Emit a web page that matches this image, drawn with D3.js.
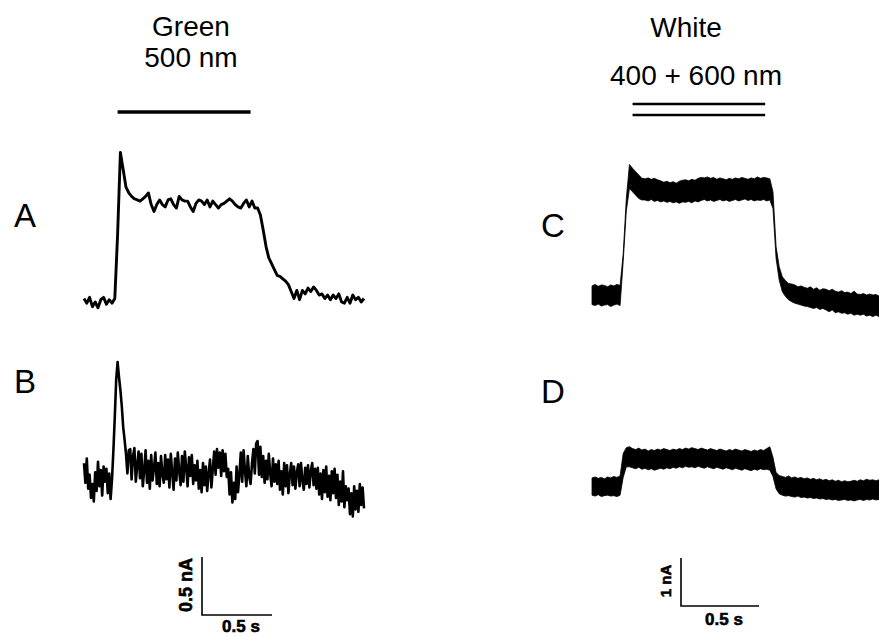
<!DOCTYPE html>
<html>
<head>
<meta charset="utf-8">
<script src="https://cdn.jsdelivr.net/npm/d3@7"></script>
<style>
  html, body { margin: 0; padding: 0; background: #fff; }
  svg { display: block; font-family: "Liberation Sans", Arial, sans-serif; }
  .trace { fill: none; stroke: #000; stroke-linejoin: round; }
  .band { fill: #000; stroke: #000; stroke-width: 0.8; stroke-linejoin: round; }
  .scalebar { fill: none; stroke: #000; stroke-width: 1.6; }
  .scalelabel { font-weight: bold; stroke: #000; stroke-width: 0.6; }
  .stim { stroke: #000; }
</style>
</head>
<body>
<div id="container"></div>
<script>

//---------------------
// DATA (nA, sampled every dt seconds)
//---------------------

const dt_a = 0.02;
const dt_b = 0.01;
const dt_cd = 0.02;

// A: green 500 nm, cell 1
const trace_a = [
  0.03, -0.01, 0.04, -0.04, 0.00, -0.05, 0.02, 0.04, -0.02, 0.02, -0.01, 0.03,
  0.58, 1.29, 1.14, 0.99, 0.94, 0.91,
  0.89, 0.88, 0.87, 0.89, 0.91, 0.94, 0.84, 0.78, 0.84, 0.88, 0.84, 0.82, 0.88, 0.89, 0.84,
  0.81, 0.91, 0.88, 0.87, 0.87, 0.82, 0.78, 0.85, 0.88, 0.87, 0.84, 0.88, 0.82, 0.87, 0.84,
  0.81, 0.84, 0.85, 0.87, 0.89, 0.87, 0.84, 0.82, 0.81, 0.85, 0.88, 0.82, 0.87, 0.81, 0.81,
  0.75, 0.62, 0.48, 0.38, 0.33, 0.28, 0.23, 0.22, 0.20, 0.18, 0.15, 0.09, 0.03, 0.10, 0.02,
  0.10, 0.07, 0.12, 0.09, 0.13, 0.10, 0.06, 0.07, 0.03, 0.06, 0.02, 0.06, 0.03, 0.07, 0.00,
  -0.01, 0.04, -0.01, 0.06, 0.02, 0.04, 0.00, 0.03
];

// B: green 500 nm, cell 2
const trace_b = [
  0.12, -0.05, 0.16, -0.10, 0.02, -0.18, -0.06, -0.21, 0.04, -0.12, 0.13, -0.08, 0.06, -0.16,
  0.09, -0.04, 0.07, -0.14, 0.03, -0.19, -0.02,
  0.23, 0.52, 0.84, 0.99, 0.86, 0.75, 0.61, 0.43, 0.32, 0.20, 0.03, 0.23,
  0.24, -0.02, 0.18, 0.25, -0.04, 0.10, 0.22, -0.01,
  0.20, -0.08, 0.06, 0.23, -0.05, 0.14, -0.10, 0.19, -0.03, 0.08,
  0.21, -0.06, 0.12, -0.08, 0.18, 0.02, -0.05, 0.19, -0.02, 0.15,
  -0.09, 0.20, 0.04, -0.11, 0.16, -0.03, 0.21, 0.05, -0.07, 0.18,
  -0.04, 0.22, 0.08, -0.08, 0.17, 0.01, 0.19, -0.06, 0.10, -0.03,
  0.14, -0.10, 0.06, -0.13, 0.12, -0.07, 0.09, -0.12, 0.03, 0.15, -0.09, 0.07,
  0.22, 0.02, 0.24, 0.08, 0.21, 0.01, 0.23, 0.05, 0.20, 0.00,
  0.07, -0.15, 0.04, -0.22, -0.05, -0.19, 0.09, -0.13, 0.02,
  0.21, -0.04, 0.23, 0.05, -0.08, 0.18, 0.00, -0.06, 0.12,
  0.24, 0.03, 0.29, 0.31, 0.02, 0.26, 0.00,
  0.18, -0.05, 0.14, -0.02, 0.20, 0.03, -0.08, 0.16, -0.04, 0.11, -0.06,
  0.14, -0.11, 0.05, -0.15, 0.12, -0.08, 0.10, -0.14, 0.02,
  0.12, -0.07, 0.09, -0.10, 0.04, 0.11, -0.08, 0.12, -0.03, -0.11, 0.08, -0.06, 0.10, -0.09,
  0.05, 0.12, -0.07, 0.07, -0.10,
  0.08, -0.15, 0.03, -0.19, 0.06, -0.13, 0.09, -0.17, 0.01, -0.20, 0.05, -0.14,
  0.07, -0.18, 0.02, -0.24, -0.04, -0.21, 0.05, -0.26, -0.08, -0.20,
  -0.10, -0.32, -0.14, -0.34, -0.08, -0.28, -0.12,
  -0.30, -0.06, -0.24, -0.09, -0.27
];

// C: white 400 + 600 nm, cell 1 (upper / lower edge of the noise band)
const trace_c_upper = [
  0.19, 0.22, 0.18, 0.21, 0.20, 0.17, 0.21, 0.19, 0.22, 0.20,
  0.86, 2.01, 2.72, 2.64, 2.57, 2.50, 2.43,
  2.42, 2.44, 2.41, 2.43, 2.40, 2.38, 2.35, 2.37, 2.34, 2.36, 2.33, 2.37, 2.39, 2.40,
  2.38, 2.41, 2.39, 2.43, 2.45, 2.44, 2.46, 2.43, 2.45, 2.41, 2.44, 2.42, 2.40, 2.43,
  2.41, 2.44, 2.42, 2.45, 2.43, 2.41, 2.44, 2.42, 2.46, 2.43, 2.45, 2.44, 2.42,
  2.15, 1.01, 0.59, 0.38, 0.30, 0.24, 0.23, 0.21, 0.17, 0.19,
  0.16, 0.14, 0.17, 0.12, 0.15, 0.10, 0.13, 0.12, 0.09, 0.12,
  0.08, 0.06, 0.09, 0.05, 0.06, 0.03, 0.08, 0.02, 0.01, 0.03,
  0.00, 0.02, 0.00, 0.01, -0.02, 0.00
];
const trace_c_lower = [
  -0.20, -0.22, -0.19, -0.23, -0.21, -0.20, -0.24, -0.21, -0.19, -0.22,
  0.70, 1.75, 2.22, 2.15, 2.08, 2.01, 1.98,
  1.98, 1.96, 1.99, 1.95, 1.97, 1.94, 1.96, 1.93, 1.95, 1.92, 1.94, 1.91, 1.94, 1.93,
  1.95, 1.92, 1.96, 1.94, 1.97, 1.99, 1.96, 1.98, 1.95, 1.97, 1.99, 1.96, 1.98, 1.95,
  1.97, 1.99, 1.96, 1.98, 2.00, 1.97, 1.99, 1.96, 1.98, 1.97, 1.99, 1.96, 1.98,
  1.80, 0.76, 0.31, 0.07, -0.03, -0.10, -0.14, -0.17, -0.19, -0.21,
  -0.23, -0.24, -0.26, -0.28, -0.26, -0.30, -0.28, -0.31, -0.35, -0.31,
  -0.37, -0.35, -0.38, -0.37, -0.40, -0.38, -0.42, -0.40, -0.42, -0.40,
  -0.44, -0.42, -0.45, -0.42, -0.45, -0.44
];

// D: white 400 + 600 nm, cell 2
const trace_d_upper = [
  0.19, 0.21, 0.18, 0.20, 0.17, 0.21, 0.19, 0.22, 0.20, 0.23,
  0.70, 0.82,
  0.84, 0.80, 0.78, 0.81, 0.77, 0.79, 0.75, 0.78, 0.76, 0.79, 0.77, 0.80, 0.78, 0.76, 0.79,
  0.77, 0.80, 0.78, 0.81, 0.79, 0.82, 0.80, 0.78, 0.81, 0.79, 0.77, 0.80, 0.78, 0.76, 0.79,
  0.77, 0.75, 0.78, 0.76, 0.79, 0.77, 0.75, 0.78, 0.76, 0.74, 0.77, 0.75, 0.78, 0.76, 0.80, 0.84,
  0.62, 0.30, 0.24,
  0.22, 0.20, 0.23, 0.19, 0.21, 0.18, 0.20, 0.17, 0.19, 0.16, 0.18, 0.15, 0.17, 0.14, 0.16,
  0.13, 0.15, 0.12, 0.14, 0.11, 0.13, 0.11, 0.12, 0.14, 0.12, 0.15, 0.13, 0.16, 0.14, 0.15,
  0.13, 0.15, 0.14
];
const trace_d_lower = [
  -0.17, -0.19, -0.16, -0.20, -0.18, -0.17, -0.19, -0.18, -0.20, -0.17,
  0.20, 0.42,
  0.42, 0.40, 0.38, 0.41, 0.37, 0.39, 0.36, 0.38, 0.35, 0.37, 0.39, 0.37, 0.40, 0.38, 0.41,
  0.39, 0.42, 0.40, 0.43, 0.41, 0.42, 0.40, 0.43, 0.41, 0.39, 0.42, 0.40, 0.38, 0.41, 0.39,
  0.37, 0.40, 0.38, 0.36, 0.39, 0.37, 0.35, 0.38, 0.36, 0.34, 0.37, 0.35, 0.38, 0.36, 0.37, 0.35,
  0.22, -0.04, -0.14,
  -0.17, -0.19, -0.18, -0.20, -0.21, -0.19, -0.22, -0.21, -0.23, -0.22, -0.24, -0.23, -0.25,
  -0.24, -0.26, -0.25, -0.27, -0.26, -0.28, -0.27, -0.26, -0.28, -0.27, -0.29, -0.27, -0.26,
  -0.28, -0.26, -0.27, -0.25, -0.27, -0.26, -0.27
];

// light on / off (s)
const stim_left = [0.24, 1.19];
const stim_right = [0.26, 1.11];

const titles_left = ['Green', '500 nm'];
const titles_right = ['White', '400 + 600 nm'];
const panel_labels = ['A', 'B', 'C', 'D'];

// scale bars: [amplitude nA, time s]
const scalebar_left = [0.5, 0.5];
const scalebar_right = [1, 0.5];
const scalebar_left_labels = ['0.5 nA', '0.5 s'];
const scalebar_right_labels = ['1 nA', '0.5 s'];

//---------------------
// SCALES
//---------------------

const width = 879;
const height = 637;

const scale_time_left = d3.scaleLinear().domain([0, 1]).range([84, 224]);
const scale_time_right = d3.scaleLinear().domain([0, 1]).range([592, 748]);

const scale_y = {
  a: d3.scaleLinear().domain([0, 1]).range([302, 186]),
  b: d3.scaleLinear().domain([0, 1]).range([477, 361]),
  c: d3.scaleLinear().domain([0, 1]).range([295, 247]),
  d: d3.scaleLinear().domain([0, 1]).range([487, 439])
};

const svg = d3.select('#container')
              .append('svg')
              .attr('width', width)
              .attr('height', height);

//---------------------
// TRACES
//---------------------

function toPoints (values, dt) {
  return values.map((v, i) => ({ t: i * dt, v }));
}

function toBand (upper, lower, dt) {
  return upper.map((hi, i) => ({ t: i * dt, hi, lo: lower[i] }));
}

function plotLine (data, sx, sy, stroke_width) {
  const line = d3.line()
                 .x(d => sx(d.t))
                 .y(d => sy(d.v));

  svg.append('path')
     .datum(data)
     .attr('class', 'trace')
     .attr('stroke-width', stroke_width)
     .attr('d', line);
}

function plotBand (data, sx, sy) {
  const area = d3.area()
                 .x(d => sx(d.t))
                 .y0(d => sy(d.lo))
                 .y1(d => sy(d.hi));

  svg.append('path')
     .datum(data)
     .attr('class', 'band')
     .attr('d', area);
}

plotLine(toPoints(trace_a, dt_a), scale_time_left, scale_y.a, 2.9);
plotLine(toPoints(trace_b, dt_b), scale_time_left, scale_y.b, 2.6);
plotBand(toBand(trace_c_upper, trace_c_lower, dt_cd), scale_time_right, scale_y.c);
plotBand(toBand(trace_d_upper, trace_d_lower, dt_cd), scale_time_right, scale_y.d);

//---------------------
// STIMULUS BARS + TITLES
//---------------------

svg.append('line')
   .attr('class', 'stim')
   .attr('x1', scale_time_left(stim_left[0]))
   .attr('x2', scale_time_left(stim_left[1]))
   .attr('y1', 112)
   .attr('y2', 112)
   .attr('stroke-width', 3.5);

[104, 115].forEach(y => {
  svg.append('line')
     .attr('class', 'stim')
     .attr('x1', scale_time_right(stim_right[0]))
     .attr('x2', scale_time_right(stim_right[1]))
     .attr('y1', y)
     .attr('y2', y)
     .attr('stroke-width', 2.6);
});

function addTitle (txt, x, y) {
  svg.append('text')
     .attr('x', x)
     .attr('y', y)
     .attr('text-anchor', 'middle')
     .attr('font-size', 28)
     .text(txt);
}

addTitle(titles_left[0], 191, 36);
addTitle(titles_left[1], 191, 67);
addTitle(titles_right[0], 686, 37);
addTitle(titles_right[1], 696, 85);

// panel letters
const label_pos = [[14, 227], [14, 393], [541, 237], [541, 403]];
panel_labels.forEach((lbl, i) => {
  svg.append('text')
     .attr('x', label_pos[i][0])
     .attr('y', label_pos[i][1])
     .attr('font-size', 33)
     .text(lbl);
});

//---------------------
// SCALE BARS
//---------------------

function addScaleBar (corner, sx, sy, values, labels, font_amp, time_dy) {
  const h = sy(0) - sy(values[0]);
  const w = sx(values[1]) - sx(0);
  const [x0, y0] = corner;

  svg.append('path')
     .attr('class', 'scalebar')
     .attr('d', `M${x0},${y0 - h}V${y0}H${x0 + w}`);

  svg.append('text')
     .attr('class', 'scalelabel')
     .attr('transform', `translate(${x0 - 10}, ${y0 - h / 2 - 1}) rotate(-90)`)
     .attr('text-anchor', 'middle')
     .attr('font-size', font_amp)
     .text(labels[0]);

  svg.append('text')
     .attr('class', 'scalelabel')
     .attr('x', x0 + w / 2 + 4)
     .attr('y', y0 + time_dy)
     .attr('text-anchor', 'middle')
     .attr('font-size', 17)
     .text(labels[1]);
}

addScaleBar([202, 615], scale_time_left, scale_y.a, scalebar_left, scalebar_left_labels, 18, 17);
addScaleBar([681, 606], scale_time_right, scale_y.c, scalebar_right, scalebar_right_labels, 15, 19);

</script>
</body>
</html>
